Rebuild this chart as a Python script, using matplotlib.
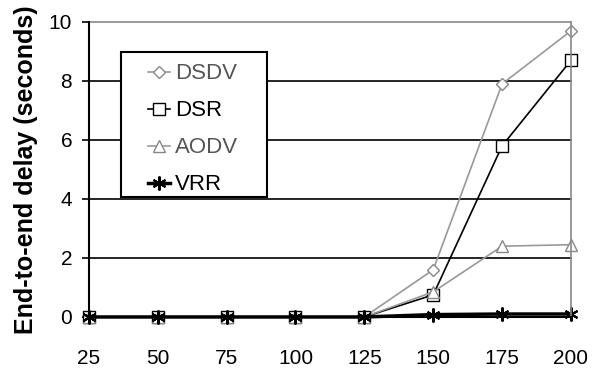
import matplotlib.pyplot as plt
from matplotlib.patches import Rectangle

nodes = [25, 50, 75, 100, 125, 150, 175, 200]
dsdv = [0, 0, 0, 0, 0, 1.6, 7.9, 9.7]
dsr = [0, 0, 0, 0, 0, 0.75, 5.8, 8.7]
aodv = [0, 0, 0, 0, 0, 0.85, 2.4, 2.45]
vrr = [0, 0, 0, 0, 0, 0.08, 0.1, 0.1]

plt.rcParams["font.family"] = ["Liberation Sans", "DejaVu Sans"]

fig = plt.figure(figsize=(5.92, 3.76), dpi=100)
ax = fig.add_axes([0.150, 0.157, 0.8145, 0.7845])

for y in [2, 4, 6, 8]:
    ax.axhline(y, color="black", lw=1.2, zorder=0)
ax.axhline(10, color="#888888", lw=1.2, zorder=0)

ax.plot(nodes, dsdv, color="#999999", lw=1.2, marker="D", ms=6,
        mfc="white", mec="#888888", label="DSDV")
ax.plot(nodes, dsr, color="black", lw=1.2, marker="s", ms=8,
        mfc="white", mec="black", label="DSR")
ax.plot(nodes, aodv, color="#999999", lw=1.2, marker="^", ms=8,
        mfc="white", mec="#888888", label="AODV")
ax.plot(nodes, vrr, color="black", lw=2.5, marker=(6, 2, 0), ms=10,
        mew=1.5, mec="black", label="VRR")

ax.set_xlim(25, 200)
ax.set_ylim(0, 10)
ax.set_xticks(nodes)
ax.set_yticks([0, 2, 4, 6, 8, 10])
ax.tick_params(axis="x", length=0, pad=23, labelsize=15)
ax.tick_params(axis="y", length=5, width=1.2, pad=7, labelsize=15, direction="out")

ax.spines["top"].set_visible(False)
ax.spines["right"].set_color("#888888")
ax.spines["right"].set_linewidth(1.2)
ax.spines["left"].set_linewidth(1.5)
ax.spines["bottom"].set_linewidth(1.5)
for line in ax.lines:
    line.set_clip_on(False)

ax.set_ylabel("End-to-end delay (seconds)", fontsize=18, fontweight="bold", labelpad=8)

# legend box drawn separately so its padding can be wider than tall
ax.add_patch(Rectangle((0.066, 0.407), 0.303, 0.491, transform=ax.transAxes,
                       facecolor="white", edgecolor="black", lw=1.5, zorder=4))
leg = ax.legend(loc="upper left", bbox_to_anchor=(0.122, 0.86), fontsize=16,
                frameon=False, handlelength=1.0, handletextpad=0.25,
                borderpad=0, borderaxespad=0, labelspacing=0.72)
leg.set_zorder(5)
leg.get_texts()[0].set_color("#555555")
leg.get_texts()[2].set_color("#555555")

fig.savefig("out.png", dpi=100)
